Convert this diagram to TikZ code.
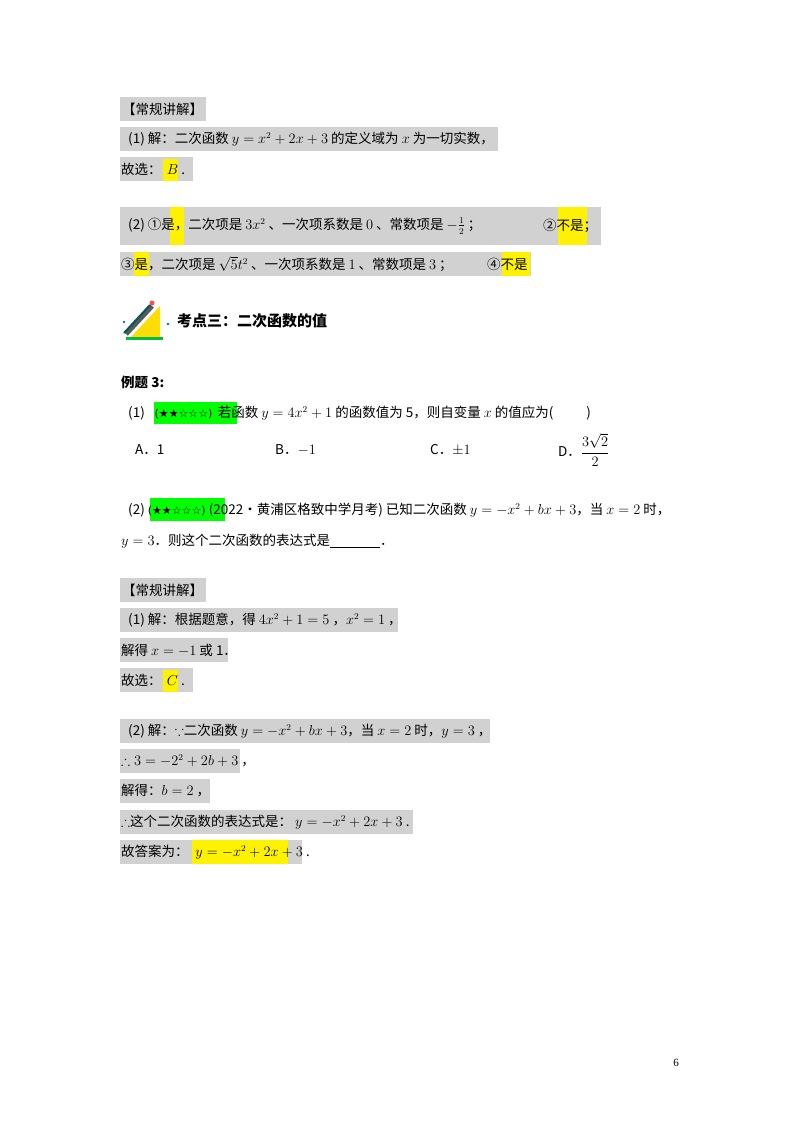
\documentclass[tikz,border=0pt]{standalone}
\usepackage{amsmath,amssymb}
\usepackage{fontspec}
\setmainfont{Liberation Serif}
\newfontfamily\cjk{Noto Sans CJK SC}
\newfontfamily\starfont{DejaVu Sans}
\begin{document}
\begin{tikzpicture}[x=1pt,y=-1pt,
  txt/.style={anchor=west,inner sep=0pt,font=\fontsize{13.5}{15}\selectfont\cjk}]
\useasboundingbox (0,0) rectangle (800,1132);
% top section boxes
\fill[black!18] (120,97) rectangle (206,121);
\fill[black!18] (120,127) rectangle (498,151);
\fill[black!18] (120,157) rectangle (193,181);
\fill[yellow] (163,159) rectangle (178,181);
\fill[black!18] (120,207) rectangle (601,245);
\fill[yellow] (170,207) rectangle (184,245);
\fill[yellow] (558,207) rectangle (587,245);
\fill[black!18] (120,252) rectangle (531,276);
\fill[yellow] (134,252) rectangle (149,276);
\fill[yellow] (502,252) rectangle (530,276);
\node[txt] (t1) at (122,109) {【常规讲解】};
\node[txt] (t2) at (128,139) {(1) 解：二次函数 $y=x^2+2x+3$ 的定义域为 $x$ 为一切实数，};
\node[txt] (t3) at (121,169) {故选： \,$B$ .};
\node[txt] (t4) at (128,226) {(2) ①是，二次项是 $3x^2$ 、一次项系数是 $0$ 、常数项是 $-\frac{1}{2}$ ；};
\node[txt] (t5) at (543,226) {②不是；};
\node[txt] (t6) at (121,264) {③是，二次项是 $\sqrt{5}t^2$ 、一次项系数是 $1$ 、常数项是 $3$ ；};
\node[txt] (t7) at (487,264) {④不是};
% icon
\fill[yellow!80!orange] (130,338) -- (160,306) -- (160,338) -- cycle;
\fill[green!50!teal] (126,340) -- (163,340) -- (163,337) -- (126,337) -- cycle;
\draw[line width=5pt,gray!70!black] (126,334) -- (152,306);
\draw[line width=2pt,teal!70!black] (124,333) -- (150,305);
\fill[red!70] (152,303) circle (2.5);
\fill[teal] (124,322) circle (1.3);
\fill[teal] (168,324) circle (1.3);
\node[anchor=west,inner sep=0pt,font=\fontsize{15}{17}\selectfont\cjk\bfseries] (h) at (177,321) {考点三：二次函数的值};
% example 3
\node[txt,font=\fontsize{13.5}{15}\selectfont\cjk\bfseries] (e3) at (121,382) {例题 3:};
\fill[green] (154,402) rectangle (237,424);
\node[txt] (q1) at (128,413) {(1) \; {\starfont\fontsize{11}{13}\selectfont (★★☆☆☆)}\, 若函数 $y=4x^2+1$ 的函数值为 5，则自变量 $x$ 的值应为(\qquad\ \ )};
\node[txt] (oa) at (135,450) {A．1};
\node[txt] (ob) at (275,450) {B．$-1$};
\node[txt] (oc) at (430,450) {C．$\pm1$};
\node[txt] (od) at (558,450) {D．$\displaystyle\frac{3\sqrt{2}}{2}$};
\fill[green] (150,498) rectangle (225,521);
\node[txt] (q2) at (128,510) {(2) {\starfont\fontsize{11}{13}\selectfont (★★☆☆☆)} (2022•黄浦区格致中学月考) 已知二次函数 $y=-x^2+bx+3$，当 $x=2$ 时，};
\node[txt] (q2b) at (121,541) {$y=3$．则这个二次函数的表达式是\rule[-2pt]{50pt}{0.4pt}．};
% solution
\fill[black!18] (120,578) rectangle (206,602);
\fill[black!18] (120,608) rectangle (398,632);
\fill[black!18] (120,638) rectangle (228,662);
\fill[black!18] (120,668) rectangle (193,692);
\fill[yellow] (163,670) rectangle (178,692);
\fill[black!18] (120,719) rectangle (490,743);
\fill[black!18] (120,749) rectangle (240,773);
\fill[black!18] (120,779) rectangle (210,803);
\fill[black!18] (120,810) rectangle (413,834);
\fill[black!18] (120,840) rectangle (302,864);
\fill[yellow] (192,840) rectangle (288,864);
\node[txt] (s0) at (122,590) {【常规讲解】};
\node[txt] (s1) at (128,620) {(1) 解：根据题意，得 $4x^2+1=5$ ，$x^2=1$ ，};
\node[txt] (s2) at (121,650) {解得 $x=-1$ 或 1．};
\node[txt] (s3) at (121,680) {故选： \,$C$ .};
\node[txt] (s4) at (128,731) {(2) 解：$\because$二次函数 $y=-x^2+bx+3$，当 $x=2$ 时，$y=3$ ，};
\node[txt] (s5) at (121,761) {$\therefore 3=-2^2+2b+3$ ，};
\node[txt] (s6) at (121,791) {解得：$b=2$ ，};
\node[txt] (s7) at (121,822) {$\therefore$这个二次函数的表达式是： $y=-x^2+2x+3$ .};
\node[txt] (s8) at (121,852) {故答案为： \;$y=-x^2+2x+3$ .};
\node[anchor=center,inner sep=0pt,font=\fontsize{11}{13}\selectfont] (pg) at (676,1063) {6};
\end{tikzpicture}
\end{document}
